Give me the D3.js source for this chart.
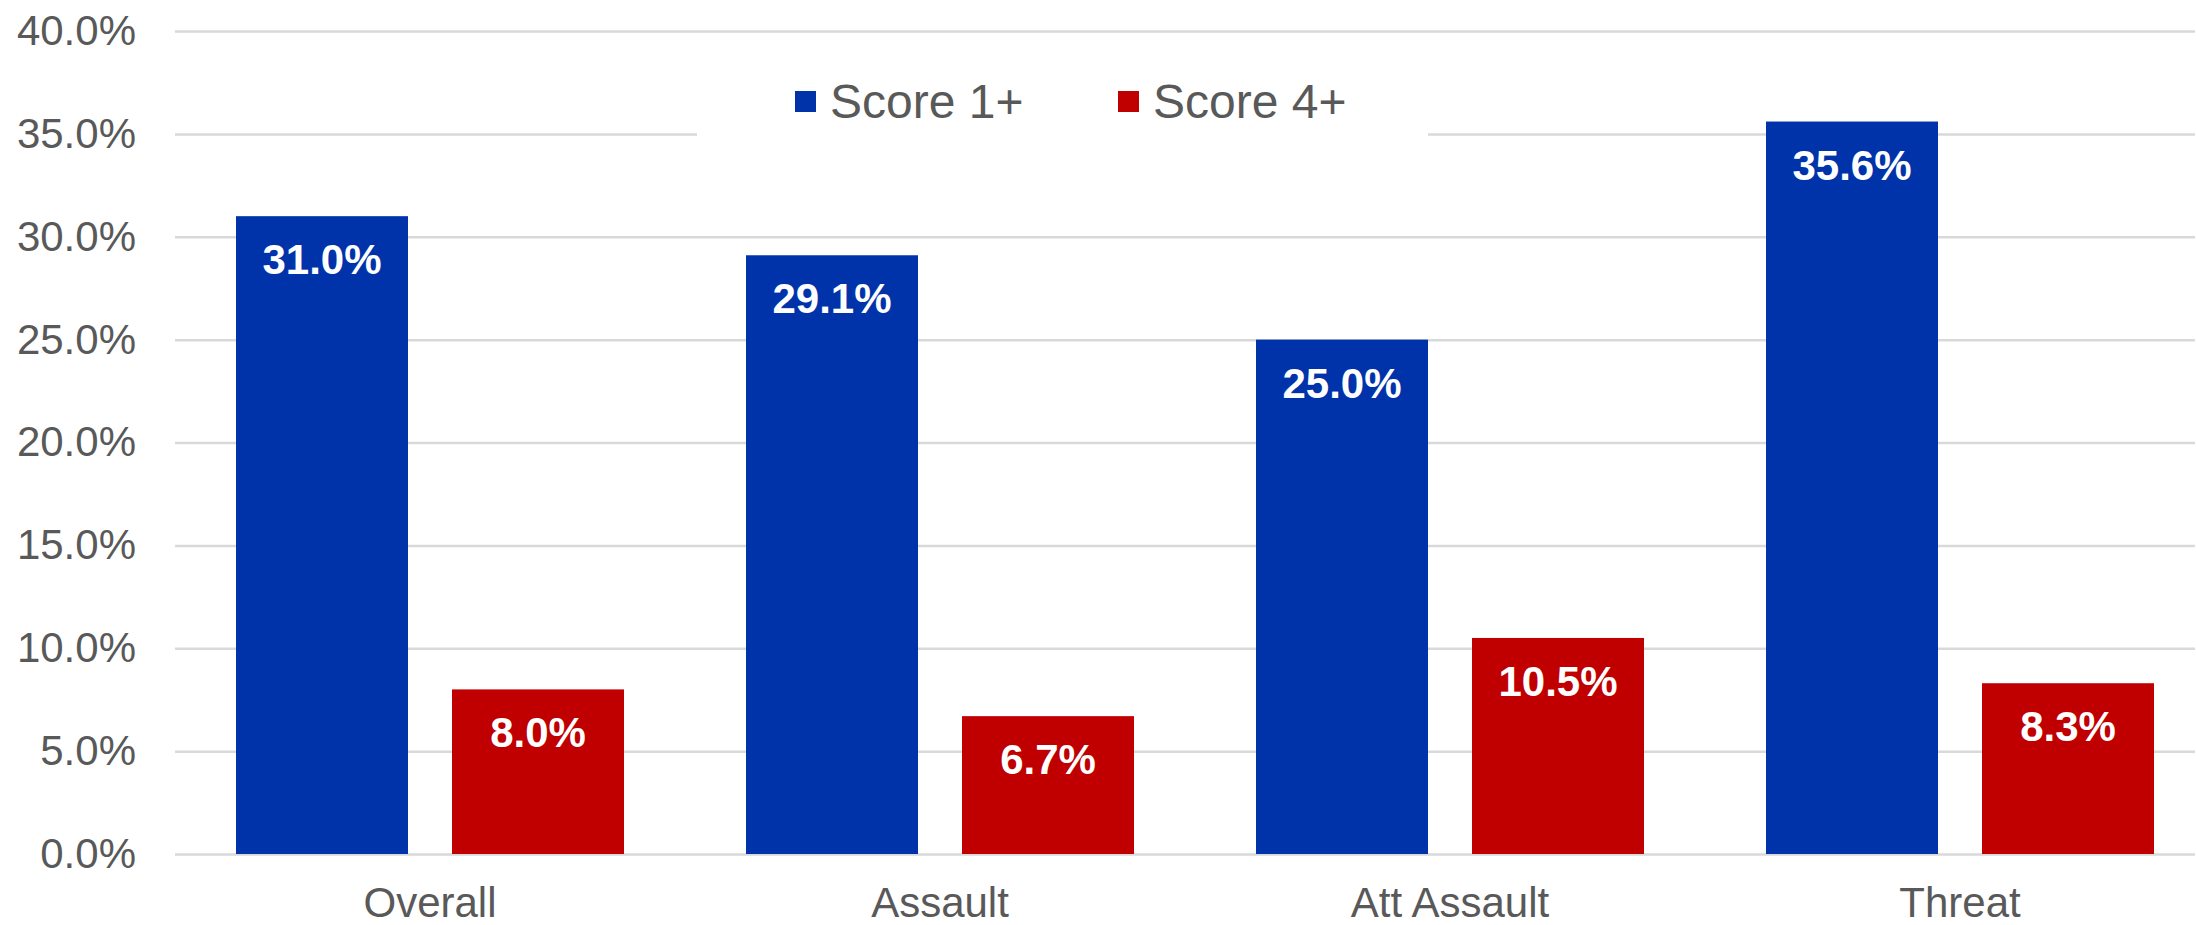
<!DOCTYPE html>
<html>
<head>
<meta charset="utf-8">
<script src="https://cdn.jsdelivr.net/npm/d3@7"></script>
<style>
  body { margin: 0; background: #fff; overflow: hidden; }
  text { font-family: "Liberation Sans", Arial, sans-serif; }
</style>
</head>
<body>
<div id="my_dataviz"><svg></svg></div>
<script>
// chart values
var categories = ["Overall", "Assault", "Att Assault", "Threat"];
var seriesNames = ["Score 1+", "Score 4+"];
var score1 = [31.0, 29.1, 25.0, 35.6];
var score4 = [8.0, 6.7, 10.5, 8.3];
var yTicks = [0, 5, 10, 15, 20, 25, 30, 35, 40];
var colors = ["#0033aa", "#c00000"];

var W = 2196, H = 925;
var margin = {top: 31, right: 1, bottom: 71, left: 175};
var width = W - margin.left - margin.right;
var height = H - margin.top - margin.bottom;
// the category axis runs a little past the right edge of the picture
var catWidth = 2040;

var svg = d3.select("#my_dataviz").select("svg")
    .attr("width", W)
    .attr("height", H)
    .append("g")
    .attr("transform", "translate(" + margin.left + "," + margin.top + ")");

var x = d3.scaleBand()
    .domain(categories)
    .range([0, catWidth])
    .padding(0);

var xs = d3.scaleBand()
    .domain(seriesNames)
    .range([0, x.bandwidth()])
    .paddingInner(0.2037)
    .paddingOuter(0.2824);

var y = d3.scaleLinear()
    .domain([0, 40])
    .range([height, 0]);

// gridlines + y labels
var yAxis = svg.append("g")
    .call(d3.axisLeft(y)
        .tickValues(yTicks)
        .tickSize(-width)
        .tickPadding(39)
        .tickFormat(function (d) { return d3.format(".1f")(d) + "%"; }));
yAxis.select(".domain").remove();
yAxis.selectAll("line")
    .attr("stroke", "#d9d9d9")
    .attr("stroke-width", 2.5);
yAxis.selectAll("text")
    .attr("fill", "#595959")
    .style("font-size", "42px");

// x labels
var xAxis = svg.append("g")
    .attr("transform", "translate(0," + height + ")")
    .call(d3.axisBottom(x).tickSize(0).tickPadding(33));
xAxis.select(".domain").remove();
xAxis.selectAll("text")
    .attr("fill", "#595959")
    .style("font-size", "42px");

// legend background (hides part of the 35% gridline)
svg.append("rect")
    .attr("x", 697 - margin.left)
    .attr("y", 40 - margin.top)
    .attr("width", 731)
    .attr("height", 100)
    .attr("fill", "#fff");

var rows = [];
for (i = 0; i < categories.length; i++) {
    rows.push({cat: categories[i], s: seriesNames[0], v: score1[i], c: colors[0]});
    rows.push({cat: categories[i], s: seriesNames[1], v: score4[i], c: colors[1]});
}

svg.selectAll(".bar")
    .data(rows)
    .enter()
    .append("rect")
    .attr("class", "bar")
    .attr("x", function (d) { return x(d.cat) + xs(d.s); })
    .attr("y", function (d) { return y(d.v); })
    .attr("width", xs.bandwidth())
    .attr("height", function (d) { return height - y(d.v); })
    .attr("fill", function (d) { return d.c; });

svg.selectAll(".lbl")
    .data(rows)
    .enter()
    .append("text")
    .attr("class", "lbl")
    .attr("x", function (d) { return x(d.cat) + xs(d.s) + xs.bandwidth() / 2; })
    .attr("y", function (d) { return y(d.v) + 58; })
    .attr("text-anchor", "middle")
    .attr("fill", "#fff")
    .style("font-size", "42px")
    .style("font-weight", "bold")
    .text(function (d) { return d3.format(".1f")(d.v) + "%"; });

// legend
var legendX = [795, 1118];
var legend = svg.append("g")
    .attr("transform", "translate(" + (-margin.left) + "," + (-margin.top) + ")");
for (i = 0; i < seriesNames.length; i++) {
    legend.append("rect")
        .attr("x", legendX[i])
        .attr("y", 91)
        .attr("width", 21)
        .attr("height", 21)
        .attr("fill", colors[i]);
    legend.append("text")
        .attr("x", legendX[i] + 35)
        .attr("y", 118)
        .attr("fill", "#595959")
        .style("font-size", "48px")
        .text(seriesNames[i]);
}
</script>
</body>
</html>
